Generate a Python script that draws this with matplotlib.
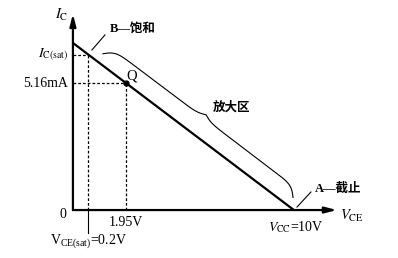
import numpy as np
import matplotlib.pyplot as plt

plt.rcParams['font.family'] = ['Liberation Serif', 'Noto Sans CJK SC']
plt.rcParams['mathtext.fontset'] = 'stix'

# 示意图：横轴位置不按比例，只用于作图
vcc = 10.0          # 截止点 V_CC
ic_max = 10.0       # 负载线与纵轴交点
x_sat = 0.7         # V_CE(sat) 的作图位置
x_q = 2.4           # Q 点的作图位置
vce_labels = [r'$\mathregular{V_{CE(sat)}}$=0.2V', '1.95V', r'$V_{\rm CC}$=10V']
ic_labels = [r'$I_{\rm C(sat)}$', '5.16mA']
region_labels = ['B—饱和', '放大区', 'A—截止']
brace_span = [0.11, 0.97]   # 大括号沿负载线的范围


def load(x):
    return ic_max * (1 - x / vcc)


fig = plt.figure(figsize=(3.98, 2.58), dpi=100)
ax = fig.add_axes([0, 0, 1, 1])
ax.set_xlim(-3.30, 14.71)
ax.set_ylim(-2.87, 12.57)
ax.axis('off')

# 坐标轴
arr = dict(arrowstyle='-|>,head_length=0.7,head_width=0.18', lw=1.6, color='k',
           shrinkA=0, shrinkB=0)
ax.annotate('', xy=(11.95, 0), xytext=(0, 0), arrowprops=arr)
ax.annotate('', xy=(0, 11.74), xytext=(0, 0), arrowprops=arr)

# 负载线
ax.plot([0, vcc], [load(0), 0], color='k', lw=1.6, solid_capstyle='butt')

# 虚线
ds = dict(color='k', lw=0.9, linestyle=(0, (2.2, 1.6)))
ax.plot([0, x_sat], [load(x_sat)] * 2, **ds)
ax.plot([x_sat, x_sat], [0, load(x_sat)], **ds)
ax.plot([0, x_q], [load(x_q)] * 2, **ds)
ax.plot([x_q, x_q], [0, load(x_q)], **ds)
ax.plot([x_q], [load(x_q)], 'o', color='k', ms=3.5)

# V_CE(sat) 下方短线
ax.plot([x_sat, x_sat], [0, -1.38], color='k', lw=0.8)

fs = 10
ax.text(-0.50, 11.68, r'$I_{\rm C}$', fontsize=10.5, ha='center', va='center')
ax.text(12.08, -0.36, r'$V_{\rm CE}$', fontsize=10.5, ha='left', va='center')
ax.text(-0.45, -0.24, '0', fontsize=fs, ha='center', va='center')
ax.text(-0.23, load(x_sat), ic_labels[0], fontsize=fs, ha='right', va='center')
ax.text(-0.23, load(x_q), ic_labels[1], fontsize=fs, ha='right', va='center')
ax.text(x_q + 0.27, load(x_q) + 0.4, 'Q', fontsize=10.5, ha='center', va='center')
ax.text(x_sat + 0.02, -1.86, vce_labels[0], fontsize=fs, ha='center', va='center')
ax.text(x_q, -0.72, vce_labels[1], fontsize=fs, ha='center', va='center')
ax.text(vcc + 0.09, -1.02, vce_labels[2], fontsize=fs, ha='center', va='center')

cjk = dict(fontsize=9, va='center', ha='left', weight='bold',
           family=['Liberation Serif', 'Noto Sans CJK SC'])
ax.text(1.67, 10.84, region_labels[0], **cjk)
ax.text(6.33, 6.11, region_labels[1], **cjk)
ax.text(10.95, 1.26, region_labels[2], **cjk)

# 引线
ax.plot([0.86, 1.45], [9.58, 10.48], color='k', lw=0.8)
ax.plot([10.14, 10.77], [0.18, 1.08], color='k', lw=0.8)

# 放大区大括号（在像素坐标下沿负载线平移）
fig.canvas.draw()
p0 = np.array([vcc * brace_span[0], load(vcc * brace_span[0])])
p1 = np.array([vcc * brace_span[1], load(vcc * brace_span[1])])
a = ax.transData.transform(p0)
b = ax.transData.transform(p1)
d = b - a
L = np.hypot(*d)
u = d / L
nrm = np.array([-u[1], u[0]])
s = np.linspace(0, L / 2, 300)
off, tip, beta = 19.0, 8.0, 0.22
h = off / (1 + np.exp(-beta * s)) + tip / (1 + np.exp(-beta * (s - L / 2)))
s_full = np.concatenate([s, L - s[::-1]])
h_full = np.concatenate([h, h[::-1]])
pts = a + np.outer(s_full, u) + np.outer(h_full, nrm)
pts = ax.transData.inverted().transform(pts)
ax.plot(pts[:, 0], pts[:, 1], color='k', lw=0.8)

fig.savefig('out.png', dpi=100)
